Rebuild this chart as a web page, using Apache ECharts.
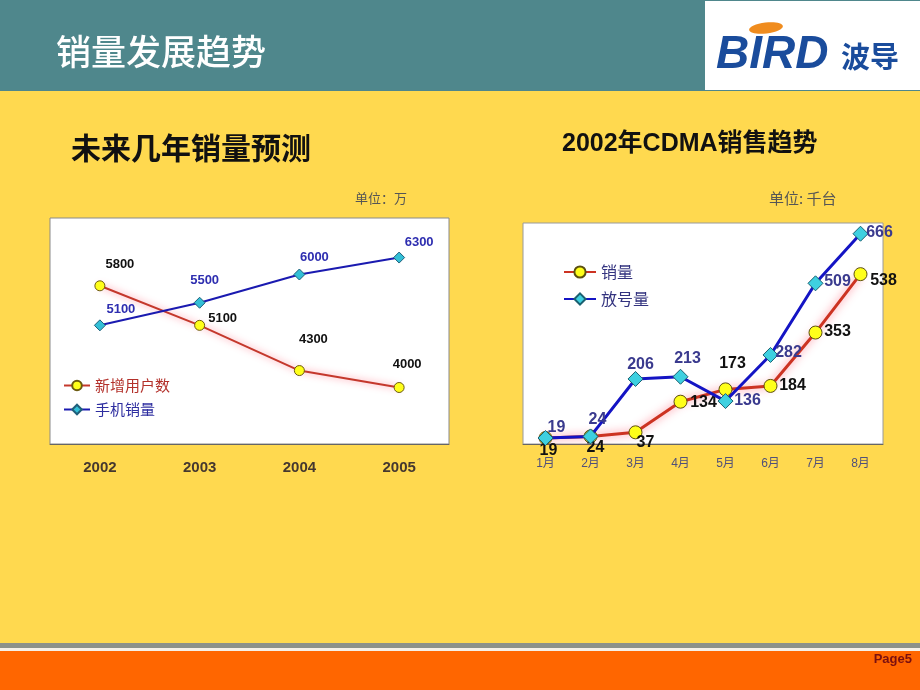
<!DOCTYPE html>
<html><head><meta charset="utf-8">
<script src="https://cdn.jsdelivr.net/npm/echarts@6/dist/echarts.min.js"></script>
<style>html,body{margin:0;padding:0;background:#FFD94F;}#c{width:920px;height:690px;}</style>
</head><body><div id="c"></div>
<script>
// ---- data ----
const yearCats = ['2002', '2003', '2004', '2005'];
const newUsers = [5800, 5100, 4300, 4000];      // 新增用户数
const phoneSales = [5100, 5500, 6000, 6300];    // 手机销量
const monthCats = ['1月', '2月', '3月', '4月', '5月', '6月', '7月', '8月'];
const cdmaSales = [19, 24, 37, 134, 173, 184, 353, 538];   // 销量
const cdmaNumbers = [19, 24, 206, 213, 136, 282, 509, 666]; // 放号量

// ---- label placement (style) ----
const offNewUsers = [[20,-21],[23,-7],[14,-31],[8,-23]];
const offPhone = [[21,-16],[5,-22],[15,-17],[20,-15]];
const offSales = [[3,13],[5,11],[10,10],[23,1],[7,-26],[22,0],[22,-1],[23,6]];
const offNumbers = [[11,-10],[7,-17],[5,-14],[7,-18],[22,0],[18,-2],[22,-2],[19,-1]];

function withOffsets(vals, offs) {
  return vals.map((v, i) => ({ value: v, label: { offset: offs[i] } }));
}

const cjk = '"Noto Sans CJK SC", sans-serif';
const lat = '"Liberation Sans", Arial, sans-serif';
const mix = '"Liberation Sans", "Noto Sans CJK SC", sans-serif';

const chart = echarts.init(document.getElementById('c'), null, { renderer: 'canvas' });
chart.setOption({
  backgroundColor: '#FFD94F',
  animation: false,
  graphic: [
    { type: 'rect', shape: { x: 0, y: 0, width: 920, height: 91 }, style: { fill: '#4F878C' }, silent: true },
    { type: 'rect', shape: { x: 705, y: 1, width: 215, height: 89 }, style: { fill: '#FFFFFF' }, silent: true },
    { type: 'text', x: 56, y: 52, style: { text: '销量发展趋势', font: '500 35px ' + cjk, fill: '#FFFFFF', verticalAlign: 'middle',
        shadowColor: 'rgba(0,0,0,0.35)', shadowOffsetX: 1, shadowOffsetY: 1, shadowBlur: 1 } },
    { type: 'ellipse', shape: { cx: 766, cy: 28, rx: 17, ry: 5.5 }, rotation: 0.12, originX: 766, originY: 28, style: { fill: '#F08C1E' } },
    { type: 'text', x: 716, y: 55, style: { text: 'BIRD', font: 'italic bold 46px ' + lat, fill: '#1A4C9C', verticalAlign: 'middle' } },
    { type: 'text', x: 841, y: 57, style: { text: '波导', font: 'bold 29px ' + cjk, fill: '#1A4C9C', verticalAlign: 'middle' } },
    { type: 'rect', shape: { x: 0, y: 643, width: 920, height: 5 }, style: { fill: '#8C918A' }, silent: true },
    { type: 'rect', shape: { x: 0, y: 648, width: 920, height: 3 }, style: { fill: '#F5F0E8' }, silent: true },
    { type: 'rect', shape: { x: 0, y: 651, width: 920, height: 39 }, style: { fill: '#FF6600' }, silent: true },
    { type: 'text', x: 912, y: 659, style: { text: 'Page5', font: 'bold 13px "Liberation Sans Narrow", ' + lat, fill: '#7A1010', align: 'right', verticalAlign: 'middle' } },
    { type: 'text', x: 71, y: 148, style: { text: '未来几年销量预测', font: 'bold 30px ' + cjk, fill: '#111111', verticalAlign: 'middle' } },
    { type: 'text', x: 562, y: 144, style: { text: '2002年CDMA销售趋势', font: 'bold 25px ' + mix, fill: '#111111', verticalAlign: 'middle' } },
    { type: 'text', x: 355, y: 198, style: { text: '单位：万', font: '13px ' + cjk, fill: '#555555', verticalAlign: 'middle' } },
    { type: 'text', x: 769, y: 198, style: { text: '单位: 千台', font: '15px ' + cjk, fill: '#555555', verticalAlign: 'middle' } }
  ],
  legend: [
    {
      data: [
        { name: '新增用户数', textStyle: { color: '#B3302A' } },
        { name: '手机销量', textStyle: { color: '#2E2EA0' } }
      ],
      orient: 'vertical', left: 58, top: 373, itemWidth: 26, itemHeight: 12, itemGap: 9,
      textStyle: { fontSize: 15, fontFamily: cjk }
    },
    {
      data: [
        { name: '销量', textStyle: { color: '#33337F' } },
        { name: '放号量', textStyle: { color: '#33337F' } }
      ],
      orient: 'vertical', left: 558, top: 259, itemWidth: 32, itemHeight: 14, itemGap: 11,
      textStyle: { fontSize: 16, fontFamily: cjk }
    }
  ],
  grid: [
    { left: 50, top: 218, width: 399, height: 226, show: true, backgroundColor: '#FFFFFF', borderColor: '#8A8A8A', borderWidth: 1 },
    { left: 523, top: 223, width: 360, height: 221, show: true, backgroundColor: '#FFFFFF', borderColor: '#9A9A9A', borderWidth: 1 }
  ],
  xAxis: [
    { type: 'category', gridIndex: 0, data: yearCats, boundaryGap: true,
      axisLine: { lineStyle: { color: '#666666', width: 1 } },
      axisTick: { inside: true, length: 5, lineStyle: { color: '#777777' } },
      axisLabel: { color: '#45382F', fontSize: 15, fontWeight: 'bold', fontFamily: lat, margin: 16 } },
    { type: 'category', gridIndex: 1, data: monthCats, boundaryGap: true,
      axisLine: { lineStyle: { color: '#666666', width: 1 } },
      axisTick: { inside: false, length: 5, lineStyle: { color: '#777777' } },
      axisLabel: { color: '#50507A', fontSize: 12, fontFamily: mix, margin: 14 } }
  ],
  yAxis: [
    { type: 'value', gridIndex: 0, min: 3000, max: 7000, show: false, splitLine: { show: false } },
    { type: 'value', gridIndex: 1, min: 0, max: 700, show: false, splitLine: { show: false } }
  ],
  series: [
    { name: '新增用户数', type: 'line', xAxisIndex: 0, yAxisIndex: 0,
      data: withOffsets(newUsers, offNewUsers),
      symbol: 'circle', symbolSize: 10,
      itemStyle: { color: '#FFFF1A', borderColor: '#6B5A10', borderWidth: 1 },
      lineStyle: { color: '#C4382C', width: 2, shadowColor: 'rgba(255,100,120,0.8)', shadowBlur: 7 },
      label: { show: true, position: 'inside', color: '#111111', fontSize: 13, fontWeight: 'bold', fontFamily: lat },
      z: 3 },
    { name: '手机销量', type: 'line', xAxisIndex: 0, yAxisIndex: 0,
      data: withOffsets(phoneSales, offPhone),
      symbol: 'diamond', symbolSize: 11,
      itemStyle: { color: '#33BFD6', borderColor: '#1F5F7A', borderWidth: 1 },
      lineStyle: { color: '#1A1AB0', width: 2 },
      label: { show: true, position: 'inside', color: '#2E2EB0', fontSize: 13, fontWeight: 'bold', fontFamily: lat },
      z: 4 },
    { name: '销量', type: 'line', xAxisIndex: 1, yAxisIndex: 1,
      data: withOffsets(cdmaSales, offSales),
      symbol: 'circle', symbolSize: 13,
      itemStyle: { color: '#FFFF1A', borderColor: '#5C5010', borderWidth: 1 },
      lineStyle: { color: '#CC3322', width: 3, shadowColor: 'rgba(255,100,120,0.85)', shadowBlur: 8 },
      label: { show: true, position: 'inside', color: '#111111', fontSize: 16, fontWeight: 'bold', fontFamily: lat },
      z: 3 },
    { name: '放号量', type: 'line', xAxisIndex: 1, yAxisIndex: 1,
      data: withOffsets(cdmaNumbers, offNumbers),
      symbol: 'diamond', symbolSize: 15,
      itemStyle: { color: '#3ED0E0', borderColor: '#1A6070', borderWidth: 1 },
      lineStyle: { color: '#1414C4', width: 3 },
      label: { show: true, position: 'inside', color: '#3A3A8E', fontSize: 16, fontWeight: 'bold', fontFamily: lat },
      z: 4 }
  ]
});
</script>
</body></html>
